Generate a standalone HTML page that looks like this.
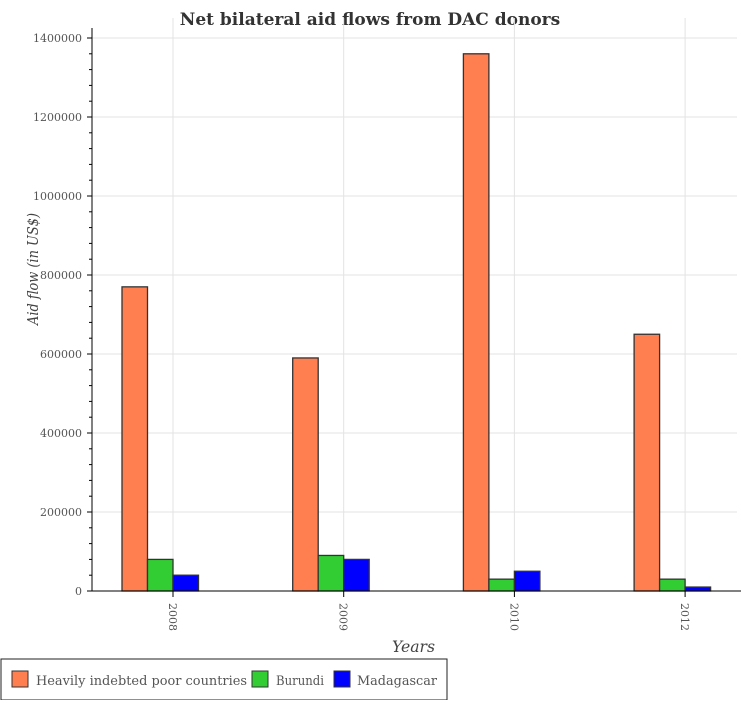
<!DOCTYPE html>
<html><head><meta charset="utf-8"><style>
body{margin:0;background:#fff;}
svg text{font-family:"DejaVu Serif","Liberation Serif",serif;}
</style></head><body>
<svg id="chart" width="741" height="700" xmlns="http://www.w3.org/2000/svg">
<text x="370" y="25" text-anchor="middle" font-size="17" font-weight="bold" fill="#333">Net bilateral aid flows from DAC donors</text>
<g id="grid"></g><g id="bars"></g><g id="axes"></g>
<text transform="translate(38,269) rotate(-90)" text-anchor="middle" font-size="15" font-style="italic" fill="#444" textLength="112" lengthAdjust="spacingAndGlyphs">Aid flow (in US$)</text>
<text x="392" y="652" font-size="16" font-style="italic" fill="#444" textLength="43" lengthAdjust="spacingAndGlyphs">Years</text>
<g id="legend">
<rect x="1" y="659" width="446" height="41" fill="#fff" stroke="#222" stroke-width="1"/>
<rect x="12" y="671" width="16" height="16" fill="#ff7f50" stroke="#333"/>
<text x="36" y="685" font-size="13" fill="#555" textLength="211" lengthAdjust="spacingAndGlyphs">Heavily indebted poor countries</text>
<rect x="252" y="671" width="16" height="16" fill="#32cd32" stroke="#333"/>
<text x="276" y="685" font-size="13" fill="#555" textLength="48" lengthAdjust="spacingAndGlyphs">Burundi</text>
<rect x="334" y="671" width="16" height="16" fill="#0000ff" stroke="#333"/>
<text x="357" y="685" font-size="13" fill="#555" textLength="80" lengthAdjust="spacingAndGlyphs">Madagascar</text>
</g>
</svg>
<script>
const categories = ["2008","2009","2010","2012"];
const hipcValues = [770000,590000,1360000,650000];
const burundiValues = [80000,90000,30000,30000];
const madagascarValues = [40000,80000,50000,10000];
const yTicks = [0,200000,400000,600000,800000,1000000,1200000,1400000];

const NS="http://www.w3.org/2000/svg";
const X0=92, X1=737, Y0=591, Ytop=38, YMAX=1400000;
const y = v => Y0 - v/YMAX*(Y0-Ytop);
const xc = i => 173 + i*170.7;
const BW=25.5;
function mk(tag,attrs,parent){const e=document.createElementNS(NS,tag);for(const k in attrs)e.setAttribute(k,attrs[k]);parent.appendChild(e);return e;}
const grid=document.getElementById('grid'), bars=document.getElementById('bars'), axes=document.getElementById('axes');
yTicks.forEach(t=>{
  const g=mk('line',{x1:X0,x2:X1,y1:y(t),y2:y(t),stroke:'#e3e3e3'},grid);
  
  
  const tk=mk('line',{x1:X0-5,x2:X0,y1:y(t),y2:y(t),stroke:'#000'},axes);
  
  
  const lb=mk('text',{x:X0-10,y:y(t)+4,'text-anchor':'end','font-size':'11',fill:'#555'},axes);
  lb.textContent=t;
  
  
});
for(let v=40000; v<YMAX; v+=40000){ if(v%200000===0) continue;
  const m=mk('line',{x1:X0-3,x2:X0,y1:y(v),y2:y(v),stroke:'#000'},axes);
  
  
}
const series=[[hipcValues,'#ff7f50','hipc'],[burundiValues,'#32cd32','burundi'],[madagascarValues,'#0000ff','madagascar']];
categories.forEach((c,i)=>{
  const cx=xc(i);
  const gl=mk('line',{x1:cx,x2:cx,y1:Ytop-20,y2:Y0,stroke:'#e3e3e3'},grid);
  
  
  series.forEach((s,j)=>{
    const v=s[0][i];
    const r=mk('rect',{x:cx-2*BW+j*BW,y:y(v),width:BW,height:Y0-y(v),fill:s[1],stroke:'#333','stroke-width':'1.3'},bars);
    
    
  });
  const tk=mk('line',{x1:cx,x2:cx,y1:Y0,y2:Y0+6,stroke:'#000'},axes);
  
  
  const lb=mk('text',{transform:`translate(${cx-4},${Y0+12}) rotate(90)`,'font-size':'11',fill:'#555'},axes);
  lb.textContent=c;
  
  
});
const ya=mk('line',{x1:X0,x2:X0,y1:Ytop-10,y2:Y0,stroke:'#000'},axes);


const xa=mk('line',{x1:X0,x2:X1+4,y1:Y0,y2:Y0,stroke:'#000'},axes);


</script>
</body></html>
